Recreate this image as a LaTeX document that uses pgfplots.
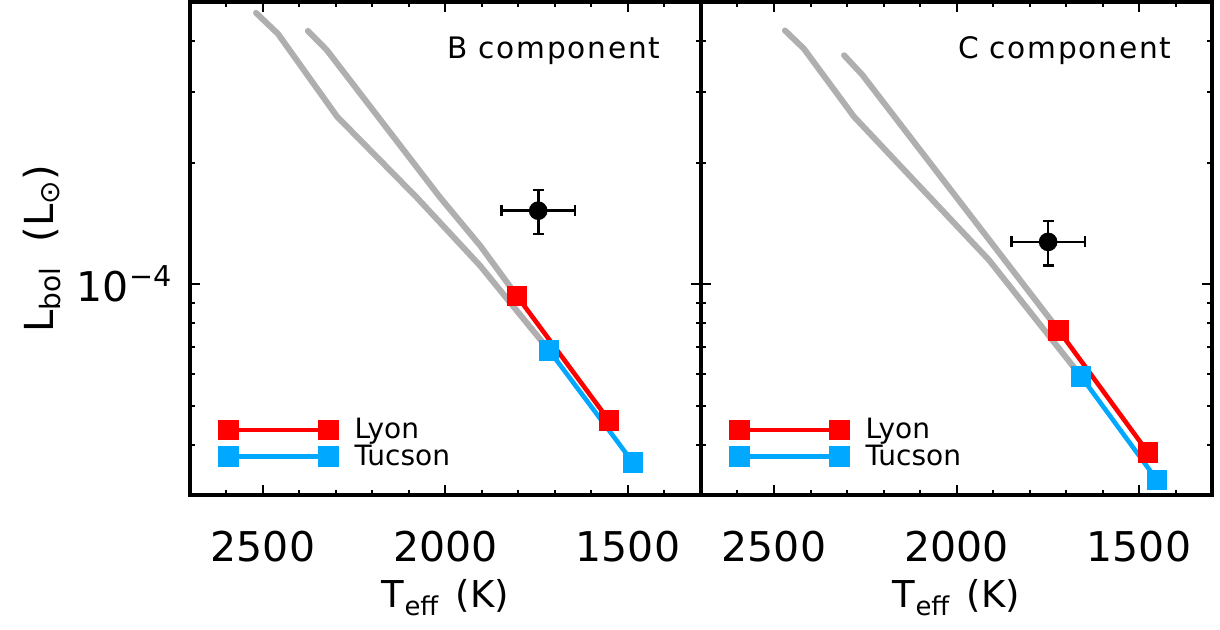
\documentclass[border=0pt]{standalone}
\usepackage{pgfplots}
\pgfplotsset{compat=1.18}
\usepackage{fontspec}
\setmainfont{DejaVu Sans}
\newfontfamily\widefont[LetterSpace=6]{DejaVu Sans}
\definecolor{lyon}{RGB}{255,0,0}
\definecolor{tucson}{RGB}{0,168,255}
\definecolor{band}{RGB}{175,175,175}

\pgfplotsset{
  lyonst/.style={lyon, line width=2.3pt, mark=square*, mark size=4pt, mark options={solid}},
  tucst/.style={tucson, line width=2.3pt, mark=square*, mark size=4pt, mark options={solid}},
  bandst/.style={band, line width=3pt, line join=round, line cap=round, forget plot},
}

\begin{document}
\begin{tikzpicture}
\path[use as bounding box] (-95pt,-67pt) rectangle (515pt,247.5pt);

\begin{axis}[name=A, at={(0pt,0pt)}, anchor=south west,
    scale only axis, width=255.5pt, height=246.5pt,
    ymode=log, x dir=reverse,
    xmin=1300, xmax=2700, ymin=3e-5, ymax=5e-4,
    xtick={1500,2000,2500}, xticklabels={1500,2000,2500},
    minor xtick={1400,1600,1700,1800,1900,2100,2200,2300,2400,2600},
    ytick={1e-4},
    minor ytick={3e-5,4e-5,5e-5,6e-5,7e-5,8e-5,9e-5,2e-4,3e-4,4e-4,5e-4},
    tick align=inside, major tick length=5pt, minor tick length=2.5pt,
    every tick/.style={black, line width=1pt},
    line width=1.6pt, axis line style={line width=1.6pt},
    xticklabel style={font=\fontsize{20.5}{24}\selectfont, yshift=-14pt},
    yticklabel style={font=\fontsize{20.5}{24}\selectfont, anchor=east, inner sep=0pt, xshift=-7.5pt},
    xlabel={T\textsubscript{eff}\hspace{0.45em}(K)},
    xlabel style={at={(axis description cs:0.5,-0.229)}, anchor=base, font=\fontsize{18.5}{22}\selectfont},
    legend cell align=left,
    legend image code/.code={\draw[#1] plot coordinates {(0pt,0pt) (50pt,0pt)};},
    legend style={draw=none, fill=none, at={(rel axis cs:0.045,0.175)}, anchor=north west,
      font=\fontsize{14}{16}\selectfont, row sep=-2.5pt,
      /tikz/every odd column/.append style={column sep=7pt}},
  yticklabels={\makebox[0pt][r]{10\textsuperscript{−4}}},
  ylabel={L\textsubscript{bol}\hspace{0.6em}(L\textsubscript{⊙})},
  ylabel style={at={(axis description cs:-0.29,0.5)}, anchor=center, font=\fontsize{20}{24}\selectfont}]
  \addplot[bandst] coordinates {(2519,4.70e-4) (2459,4.17e-4) (2297,2.60e-4) (2079,1.64e-4) (1905,1.11e-4) (1716,0.685e-4)};
  \addplot[bandst] coordinates {(2377,4.24e-4) (2325,3.80e-4) (2015,1.64e-4) (1905,1.245e-4) (1804,0.934e-4)};
  \addplot[lyonst] coordinates {(1804,0.934e-4) (1552,0.459e-4)};
  \addlegendentry{Lyon}
  \addplot[tucst] coordinates {(1716,0.685e-4) (1486,0.361e-4)};
  \addlegendentry{Tucson}
  \addplot[black, line width=1.3pt, mark=*, mark size=4pt, forget plot,
      error bars/.cd, x dir=both, x explicit, y dir=both, y explicit,
      error bar style={line width=1.3pt}, error mark options={rotate=90, line width=1.3pt, mark size=2.7pt}]
      coordinates {(1746,1.52e-4) +- (101,0.19e-4)};
  \node[anchor=base east, font=\widefont\fontsize{14.8}{18}\selectfont] at (rel axis cs:0.937,0.886) {B component};
\end{axis}

\begin{axis}[name=B, at={(A.south east)}, anchor=south west,
    scale only axis, width=255.5pt, height=246.5pt,
    ymode=log, x dir=reverse,
    xmin=1300, xmax=2700, ymin=3e-5, ymax=5e-4,
    xtick={1500,2000,2500}, xticklabels={1500,2000,2500},
    minor xtick={1400,1600,1700,1800,1900,2100,2200,2300,2400,2600},
    ytick={1e-4}, yticklabels={},
    minor ytick={3e-5,4e-5,5e-5,6e-5,7e-5,8e-5,9e-5,2e-4,3e-4,4e-4,5e-4},
    tick align=inside, major tick length=5pt, minor tick length=2.5pt,
    every tick/.style={black, line width=1pt},
    line width=1.6pt, axis line style={line width=1.6pt},
    xticklabel style={font=\fontsize{20.5}{24}\selectfont, yshift=-14pt},
    xlabel={T\textsubscript{eff}\hspace{0.45em}(K)},
    xlabel style={at={(axis description cs:0.5,-0.229)}, anchor=base, font=\fontsize{18.5}{22}\selectfont},
    legend cell align=left,
    legend image code/.code={\draw[#1] plot coordinates {(0pt,0pt) (50pt,0pt)};},
    legend style={draw=none, fill=none, at={(rel axis cs:0.045,0.175)}, anchor=north west,
      font=\fontsize{14}{16}\selectfont, row sep=-2.5pt,
      /tikz/every odd column/.append style={column sep=7pt}}]
  \addplot[bandst] coordinates {(2470,4.25e-4) (2418,3.83e-4) (2281,2.60e-4) (1911,1.147e-4) (1659,0.591e-4)};
  \addplot[bandst] coordinates {(2308,3.69e-4) (2258,3.30e-4) (1911,1.289e-4) (1720,0.768e-4)};
  \addplot[lyonst] coordinates {(1720,0.768e-4) (1475,0.382e-4)};
  \addlegendentry{Lyon}
  \addplot[tucst] coordinates {(1659,0.591e-4) (1451,0.327e-4)};
  \addlegendentry{Tucson}
  \addplot[black, line width=1.3pt, mark=*, mark size=4pt, forget plot,
      error bars/.cd, x dir=both, x explicit, y dir=both, y explicit,
      error bar style={line width=1.3pt}, error mark options={rotate=90, line width=1.3pt, mark size=2.7pt}]
      coordinates {(1749,1.272e-4) +- (101,0.16e-4)};
  \node[anchor=base east, font=\widefont\fontsize{14.8}{18}\selectfont] at (rel axis cs:0.937,0.886) {C component};
\end{axis}
\end{tikzpicture}
\end{document}
